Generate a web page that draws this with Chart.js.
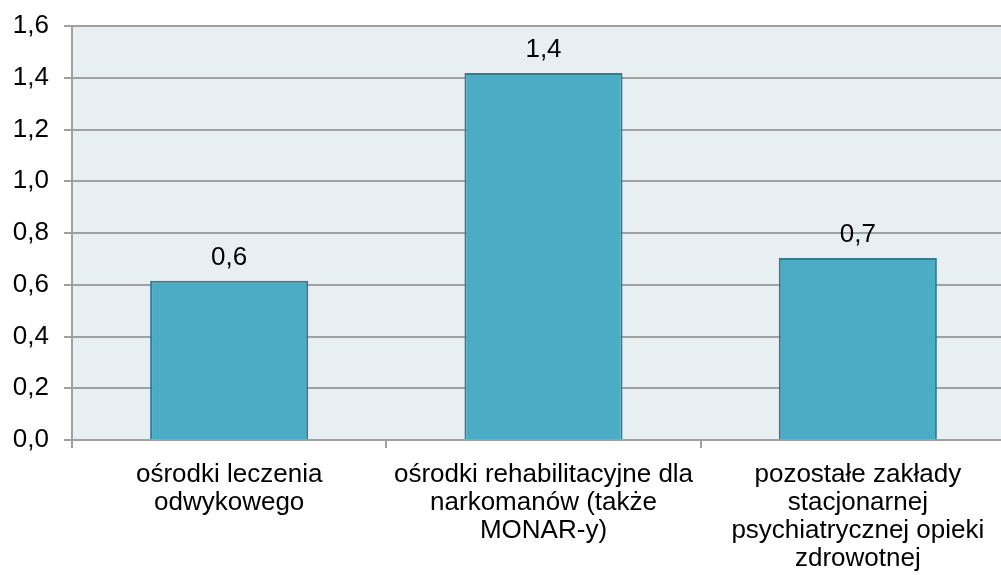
<!DOCTYPE html>
<html>
<head>
<meta charset="utf-8">
<script src="https://cdn.jsdelivr.net/npm/chart.js@4.4.0/dist/chart.umd.min.js"></script>
<style>
  html, body { margin: 0; padding: 0; background: #fff; overflow: hidden; }
  /* plot runs slightly past the right edge of the page */
  #wrap { width: 1015px; height: 575px; }
</style>
</head>
<body>
<div id="wrap"><canvas id="barChart"></canvas></div>
<script>
// categories (split into the lines they are drawn on)
const categories = [
  ["ośrodki leczenia", "odwykowego"],
  ["ośrodki rehabilitacyjne dla", "narkomanów (także", "MONAR-y)"],
  ["pozostałe zakłady", "stacjonarnej", "psychiatrycznej opieki", "zdrowotnej"]
];
// values per category
const values = [0.615, 1.418, 0.703];
// y axis range
const Y_MIN = 0;
const Y_MAX = 1.6;
const Y_STEP = 0.2;

const FONT = "'Liberation Sans', Arial, sans-serif";
const GRID = "#A0A0A0";

function fmt(v) {
  return v.toFixed(1).replace(".", ",");
}

// light fill behind the plot area
const plotBg = {
  id: "plotBg",
  beforeDraw(chart) {
    const a = chart.chartArea;
    const ctx = chart.ctx;
    ctx.save();
    ctx.fillStyle = "#E8EFF3";
    ctx.fillRect(a.left, a.top, a.right - a.left, a.bottom - a.top);
    ctx.restore();
  }
};

// value printed above each bar
const barLabels = {
  id: "barLabels",
  afterDatasetsDraw(chart) {
    const ctx = chart.ctx;
    const meta = chart.getDatasetMeta(0);
    ctx.save();
    ctx.font = "26px " + FONT;
    ctx.fillStyle = "#000";
    ctx.textAlign = "center";
    ctx.textBaseline = "alphabetic";
    meta.data.forEach((bar, i) => {
      ctx.fillText(fmt(values[i]), bar.x, bar.y - 16);
    });
    ctx.restore();
  }
};

const CHART = document.getElementById("barChart");
new Chart(CHART, {
  type: "bar",
  data: {
    labels: categories,
    datasets: [{
      data: values,
      backgroundColor: "#4BACC6",
      borderColor: "#2F7E93",
      borderWidth: 2,
      categoryPercentage: 1,
      barPercentage: 0.503
    }]
  },
  options: {
    responsive: true,
    maintainAspectRatio: false,
    animation: false,
    layout: { padding: { top: 26, right: 0, left: 0, bottom: 0 } },
    plugins: {
      legend: { display: false },
      tooltip: { enabled: false }
    },
    scales: {
      y: {
        min: Y_MIN,
        max: Y_MAX,
        afterFit(scale) {
          scale.width = 72;
          scale.paddingTop = 0;
          scale.paddingBottom = 0;
        },
        ticks: {
          stepSize: Y_STEP,
          padding: 15,
          color: "#000",
          font: { family: FONT, size: 26 },
          callback: v => fmt(v)
        },
        grid: { color: GRID, lineWidth: 2, tickLength: 8 },
        border: { color: GRID, width: 2 }
      },
      x: {
        afterFit(scale) { scale.height = 135; },
        ticks: {
          padding: 13,
          color: "#000",
          font: { family: FONT, size: 26, lineHeight: 1.08 },
          maxRotation: 0,
          autoSkip: false
        },
        grid: { display: true, drawOnChartArea: false, offset: true, color: GRID, lineWidth: 2, tickLength: 8 },
        border: { color: GRID, width: 2 }
      }
    }
  },
  plugins: [plotBg, barLabels]
});
</script>
</body>
</html>
